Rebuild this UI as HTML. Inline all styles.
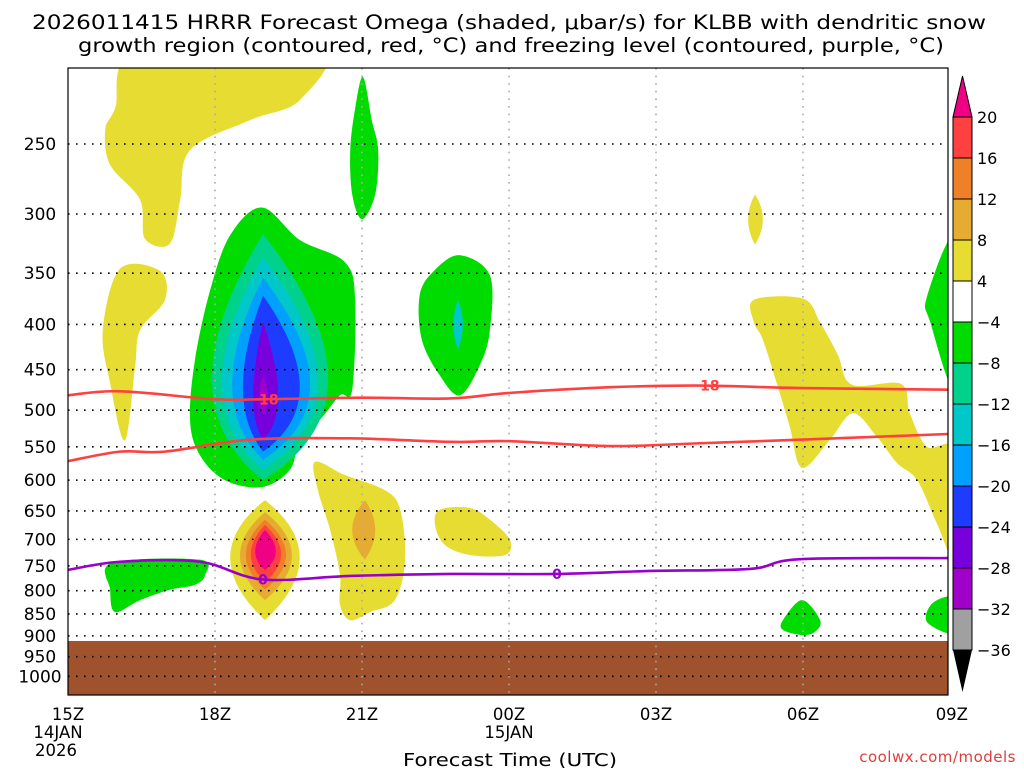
<!DOCTYPE html>
<html><head><meta charset="utf-8"><style>
html,body{margin:0;padding:0;background:#fff;}
svg text{font-family:"DejaVu Sans","Liberation Sans",sans-serif;}
</style></head><body>
<svg id="chart" width="1024" height="768" xmlns="http://www.w3.org/2000/svg">
<rect width="1024" height="768" fill="#fff"/>
<text x="32" y="29" font-size="19.5" textLength="954" lengthAdjust="spacingAndGlyphs">2026011415 HRRR Forecast Omega (shaded, μbar/s) for KLBB with dendritic snow</text>
<text x="78" y="52" font-size="19.5" textLength="866" lengthAdjust="spacingAndGlyphs">growth region (contoured, red, °C) and freezing level (contoured, purple, °C)</text>
<g id="shade"></g>
<g id="grid"></g>
<g id="contours"></g>
<rect x="68" y="68" width="880" height="627" fill="none" stroke="#000" stroke-width="1.2"/>
<g id="yaxis"></g>
<g id="xaxis"></g>
<text x="510" y="766" font-size="18" text-anchor="middle" textLength="214" lengthAdjust="spacingAndGlyphs">Forecast Time (UTC)</text>
<text x="1016" y="762" font-size="15" fill="#e03c3c" text-anchor="end" letter-spacing="0.5">coolwx.com/models</text>
<g id="colorbar"></g>
</svg>
<script>
const yTicks=[250,300,350,400,450,500,550,600,650,700,750,800,850,900,950,1000];
const xTickHours=[0,3,6,9,12,15,18];
const xTickLabels=["15Z","18Z","21Z","00Z","03Z","06Z","09Z"];
const cbLabels=["20","16","12","8","4","−4","−8","−12","−16","−20","−24","−28","−32","−36"];
const cbColors=["#ff4040","#f08028","#e6ac32","#e6dc32","#ffffff","#00dc00","#00d28c","#00c8c8","#00a0ff","#1e3cff","#7800dc","#a000c8","#a0a0a0"];
const groundTop=912;
const yellowTopLeft=[[1.47,195],[5.1,195],[4.73,223],[3.71,235],[2.49,254],[2.29,289],[2.08,324],[1.57,320],[1.47,289],[0.86,264],[0.76,241],[0.96,228]];
const yellowLeft=[[1.06,346],[1.88,348],[1.98,375],[1.47,406],[1.37,446],[1.16,541],[0.86,466],[0.71,406]];
const greenTop=[[6.02,210],[6.2,235],[6.33,254],[6.27,285],[6.0,304],[5.8,285],[5.76,254],[5.86,228]];
const greenMain=[[3.96,295],[4.73,321],[5.65,340],[5.86,375],[5.8,474],[5.55,481],[5.14,513],[4.73,540],[4.53,584],[3.96,611],[3.2,600],[2.69,562],[2.49,513],[2.59,439],[2.9,366],[3.31,317]];
const yellowMid=[[5.04,572],[5.65,592],[6.47,616],[6.78,648],[6.88,738],[6.67,820],[6.16,846],[5.76,864],[5.55,830],[5.55,768],[5.35,683],[5.1,616]];
const yellowSmall=[[7.59,648],[8.2,645],[8.61,665],[9.02,701],[8.92,729],[8.2,729],[7.69,710],[7.49,674]];
const greenLowLeft=[[0.9,744],[2.69,738],[2.8,768],[2.59,788],[2.08,798],[1.47,820],[0.96,846],[0.86,798]];
const greenMid=[[8.0,334],[8.61,352],[8.61,406],[8.41,444],[8.0,481],[7.59,457],[7.22,416],[7.18,370],[7.49,347]];
const yellowRight=[[14.0,375],[15.0,374],[15.35,398],[15.71,433],[16.0,468],[17.0,467],[17.18,504],[17.53,550],[18.1,557],[18.1,733],[17.73,671],[17.33,600],[16.92,574],[16.51,536],[16.02,504],[15.55,540],[14.98,581],[14.73,522],[14.49,471],[14.18,416],[14.0,398]];
const greenRightTop=[[18.1,320],[17.53,372],[17.6,398],[18.1,470]];
const greenBottom=[[14.98,820],[15.35,864],[15.24,891],[14.98,898],[14.59,886],[14.59,864]];
const greenBottomRight=[[18.1,816],[17.65,826],[17.53,868],[18.1,893]];
const lensCenters=[3.98,3.98,3.98,3.98,3.98,3.98,4.02,4.02,4.02,4.02,4.02,6.06,14.02,7.96];
const lensTop=[316,336,354,371,397,457,632,652,665,674,683,632,285,375];
const lensBottom=[600,584,569,557,540,506,864,820,798,782,758,738,325,427];
const lensLeft=[2.94,3.14,3.35,3.57,3.78,3.9,3.31,3.51,3.63,3.73,3.82,5.8,13.88,7.86];
const lensRight=[5.31,5.1,4.94,4.73,4.29,4.08,4.73,4.57,4.45,4.35,4.24,6.27,14.18,8.06];
const lensMid=[487,487,487,487,500,485,729,729,729,729,725,683,304,400];
const lensColors=["#00d28c","#00c8c8","#00a0ff","#1e3cff","#7800dc","#a000c8","#e6dc32","#e6ac32","#f08028","#ff4040","#f00082","#e6ac32","#e6dc32","#00c8c8"];
const red1Hours=[0,1.06,3,3.96,6,7.8,9.02,11.06,12.9,14.94,17.96];
const red1P=[481,476,486,486,484,485,478,471,469,472,474];
const red2Hours=[0,1.06,1.98,3.71,5.76,7.8,9.02,11.06,12.9,14.94,17.96];
const red2P=[571,557,557,540,538,543,542,549,545,540,532];
const frzHours=[0,1.06,2.69,3.96,5.76,7.8,9.94,11.88,13.92,14.94,17.96];
const frzP=[758,742,742,777,770,766,766,760,756,737,735];

const X=h=>68+h*49;
const Y=p=>144+384*Math.log(p/250);
const NS="http://www.w3.org/2000/svg";
function mk(tag,attrs,parent){const e=document.createElementNS(NS,tag);for(const k in attrs)e.setAttribute(k,attrs[k]);parent.appendChild(e);return e;}
function cr(pts,closed){
  const P=pts.map(d=>[X(d[0]),Y(d[1])]);const n=P.length;let s="M"+P[0][0]+","+P[0][1];
  const last=closed?n:n-1;
  for(let i=0;i<last;i++){
    const p0=P[closed?(i-1+n)%n:Math.max(i-1,0)],p1=P[i],p2=P[(i+1)%n],p3=P[closed?(i+2)%n:Math.min(i+2,n-1)];
    const c1=[p1[0]+(p2[0]-p0[0])/6,p1[1]+(p2[1]-p0[1])/6],c2=[p2[0]-(p3[0]-p1[0])/6,p2[1]-(p3[1]-p1[1])/6];
    s+="C"+c1+" "+c2+" "+p2;
  }
  return s+(closed?"Z":"");
}
const shade=document.getElementById('shade');
const clip=mk('clipPath',{id:'pc'},mk('defs',{},shade));
mk('rect',{x:68,y:68,width:880,height:627},clip);
const sg=mk('g',{'clip-path':'url(#pc)'},shade);


const blobs=[[yellowTopLeft,"#e6dc32","upward-motion-area-top-left"],[yellowLeft,"#e6dc32","upward-motion-area-left"],[greenTop,"#00dc00","downward-motion-area-top"],[greenMain,"#00dc00","downward-motion-core"],[yellowMid,"#e6dc32","upward-motion-area-mid"],[yellowSmall,"#e6dc32","upward-motion-area-small"],[greenLowLeft,"#00dc00","downward-motion-area-low-left"],[greenMid,"#00dc00","downward-motion-area-mid"],[yellowRight,"#e6dc32","upward-motion-area-right"],[greenRightTop,"#00dc00","downward-motion-area-right"],[greenBottom,"#00dc00","downward-motion-area-bottom"],[greenBottomRight,"#00dc00","downward-motion-area-bottom-right"]];
blobs.forEach(b=>{const e=mk('path',{d:cr(b[0],true),fill:b[1]},sg);

});
for(let i=0;i<lensCenters.length;i++){
  const cx=X(lensCenters[i]),yt=Y(lensTop[i]),yb=Y(lensBottom[i]),ym=Y(lensMid[i]);
  const xr=cx+2*(X(lensRight[i])-cx),xl=cx-2*(cx-X(lensLeft[i]));
  const e=mk('path',{d:`M${cx},${yt}Q${xr},${ym} ${cx},${yb}Q${xl},${ym} ${cx},${yt}Z`,fill:lensColors[i]},sg);
  
  
}
const gr=mk('rect',{x:68,y:Y(groundTop),width:880,height:695-Y(groundTop),fill:"#a0522d"},sg);



const grid=document.getElementById('grid');
yTicks.forEach(p=>{const l=mk('line',{x1:68,x2:948,y1:Y(p),y2:Y(p),stroke:"#000","stroke-width":1.6,"stroke-dasharray":"1.6 6.4"},grid);

});
xTickHours.slice(1,-1).forEach(h=>{const l=mk('line',{x1:X(h),x2:X(h),y1:68,y2:695,stroke:"#aaa","stroke-width":1.6,"stroke-dasharray":"1.6 6"},grid);

});

const ct=document.getElementById('contours');
function line(h,p,color,name){const pts=h.map((v,i)=>[v,p[i]]);const e=mk('path',{d:cr(pts,false),fill:"none",stroke:color,"stroke-width":2.6},ct);

}
line(red1Hours,red1P,"#ff4040","dgz-contour-minus18");
line(red2Hours,red2P,"#ff4040","dgz-contour-minus12");
line(frzHours,frzP,"#9900cc","freezing-level-contour");
function clab(h,p,t,color){const e=mk('text',{x:X(h),y:Y(p)+5,"font-size":14,"font-weight":"bold",fill:color,"text-anchor":"middle"},ct);e.textContent=t;

}
clab(4.1,486,"18","#ff4040");clab(13.1,469,"18","#ff4040");
clab(3.98,777,"0","#9900cc");clab(9.98,766,"0","#9900cc");

const ya=document.getElementById('yaxis');
yTicks.forEach(p=>{const t=mk('text',{x:40,y:Y(p)+6,"font-size":17,"text-anchor":"middle"},ya);t.textContent=p;

});
const xa=document.getElementById('xaxis');
xTickHours.forEach((h,i)=>{const t=mk('text',{x:X(h),y:720,"font-size":16.5,"text-anchor":i==6?"end":"middle"},xa);if(i==6)t.setAttribute('x',X(h)+18);t.textContent=xTickLabels[i];

});
[["14JAN",58,738],["2026",56,756],["15JAN",X(9),738]].forEach(d=>{const t=mk('text',{x:d[1],y:d[2],"font-size":16.5,"text-anchor":"middle"},xa);t.textContent=d[0];

});

const cb=document.getElementById('colorbar');
const cbX=953,cbW=19,cbTop=117,cbStep=41;
cbColors.forEach((c,i)=>{const r=mk('rect',{x:cbX,y:cbTop+i*cbStep,width:cbW,height:cbStep,fill:c,stroke:"#000","stroke-width":1},cb);

});
const tt=mk('path',{d:`M${cbX},${cbTop}L${cbX+cbW/2},76L${cbX+cbW},${cbTop}Z`,fill:"#f00082",stroke:"#000"},cb);


const bt=mk('path',{d:`M${cbX},${cbTop+13*cbStep}L${cbX+cbW/2},692L${cbX+cbW},${cbTop+13*cbStep}Z`,fill:"#000"},cb);


cbLabels.forEach((l,i)=>{const t=mk('text',{x:cbX+cbW+5,y:cbTop+i*cbStep+6,"font-size":16},cb);t.textContent=l;

});
</script>
</body></html>
